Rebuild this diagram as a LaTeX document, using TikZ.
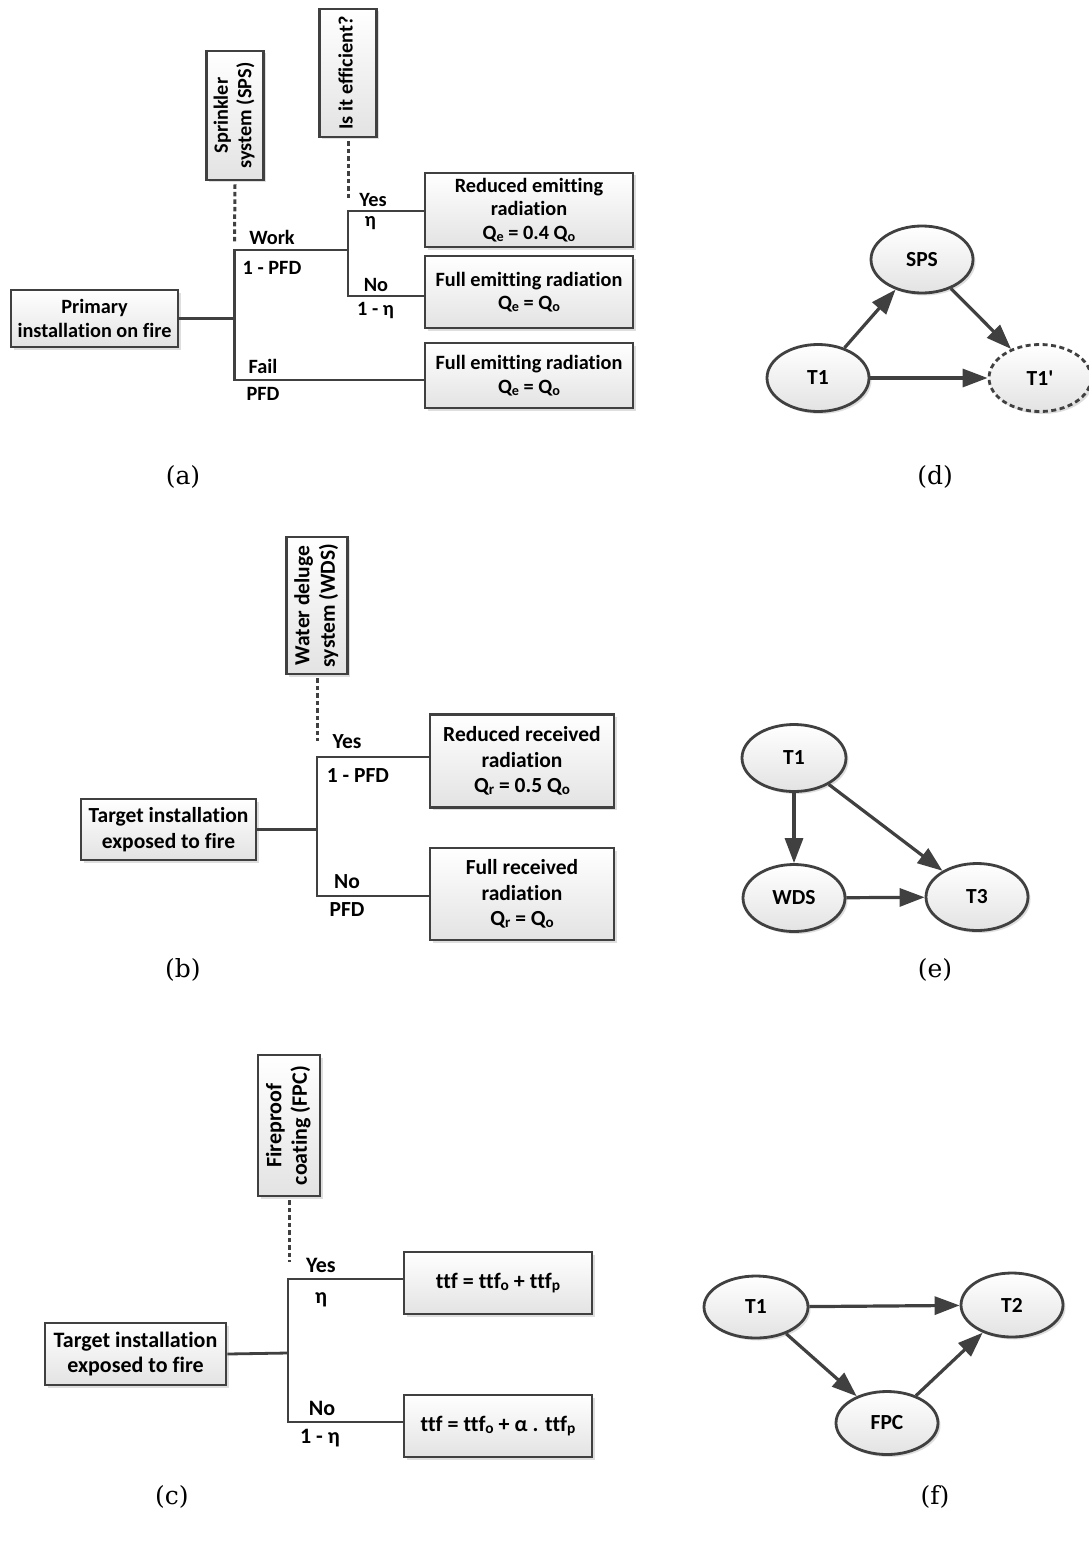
\documentclass[tikz,border=0pt]{standalone}
\usepackage{fontspec}
\setmainfont{Carlito}[Ligatures={NoCommon}]
\newfontfamily\capfont{DejaVu Serif}
\usetikzlibrary{shapes.geometric,arrows.meta,shadows}
\definecolor{ln}{HTML}{404040}
\newcommand{\sbx}[1]{\raisebox{-0.1em}{\scalebox{0.7}{#1}}}
\newcommand{\fsa}{\fontsize{20.3}{23.5}\selectfont\bfseries}
\newcommand{\fsb}{\fontsize{21.5}{25.5}\selectfont\bfseries}
\newcommand{\fsc}{\fontsize{22}{25.5}\selectfont\bfseries}
\newcommand{\rot}[1]{\rotatebox{90}{\begin{tabular}{@{}c@{}}#1\end{tabular}}}
\begin{document}
\begin{tikzpicture}[x=1pt,y=-1pt,
  box/.style={draw=ln, line width=2.8pt, top color=white, bottom color=black!11,
    drop shadow={shadow xshift=2.5pt, shadow yshift=-2.5pt, fill=black!25, opacity=0.5},
    inner sep=0pt, align=center},
  ell/.style={ellipse, draw=ln, line width=2.8pt, top color=white, bottom color=black!11,
    drop shadow={shadow xshift=2.5pt, shadow yshift=-2.5pt, fill=black!25, opacity=0.5},
    minimum width=102pt, minimum height=67pt, inner sep=0pt, font=\fontsize{21.5}{25}\selectfont\bfseries},
  tl/.style={draw=ln, line width=2.8pt, line join=miter},
  dl/.style={draw=ln, line width=3pt, dash pattern=on 4.5pt off 3pt},
  ar/.style={draw=ln, line width=3.2pt, -{Triangle[length=25pt,width=18pt]}},
  lab/.style={inner sep=0pt},
  captxt/.style={inner sep=0pt, font=\capfont\fontsize{25}{30}\selectfont}
]
\useasboundingbox (0,0) rectangle (1088,1541);
\fill[white] (0,0) rectangle (1088,1541);

% ---------------- panel (a)
\node[box, font=\fsa, minimum width=57pt, minimum height=129pt] (sps) at (235,115.5) {\rot{Sprinkler\\system (SPS)}};
\node[box, font=\fsa, minimum width=57pt, minimum height=128pt] (eff) at (348,73) {\rot{Is it efficient?}};
\node[box, font=\fsa, minimum width=167pt, minimum height=57pt] (pa) at (94.5,318.5) {Primary\\installation on fire};
\node[box, font=\fsa, minimum width=208pt, minimum height=74pt] (ra1) at (529,210) {Reduced emitting\\radiation\\Q\sbx{e} = 0.4 Q\sbx{o}};
\node[box, font=\fsa, minimum width=208pt, minimum height=72pt] (ra2) at (529,292) {Full emitting radiation\\Q\sbx{e} = Q\sbx{o}};
\node[box, font=\fsa, minimum width=208pt, minimum height=65pt] (ra3) at (529,375.5) {Full emitting radiation\\Q\sbx{e} = Q\sbx{o}};
\coordinate (a1) at (234.5,318.5);
\coordinate (a1t) at (234.5,250);
\coordinate (a1b) at (234.5,380);
\coordinate (a2) at (348,250);
\coordinate (a2t) at (348,211);
\coordinate (a2b) at (348,296);
\coordinate (da1) at (234.5,243);
\coordinate (da2) at (348,201);
\draw[dl] ([yshift=-3pt]sps.south) -- (da1);
\draw[dl] ([yshift=-3pt]eff.south) -- (da2);
\draw[tl] (pa.east) -- (a1);
\draw[tl] (a2) -- (a1t) -- (a1b) -- (a1b -| ra3.west);
\draw[tl] (ra1.west |- a2t) -- (a2t) -- (a2b) -- (a2b -| ra2.west);
\node[lab, font=\fsa] (lwork) at (272,237) {Work};
\node[lab, font=\fsa] (lpfd1) at (272,268) {1 - PFD};
\node[lab, font=\fsa] (lyes) at (373,200) {Yes};
\node[lab, font=\fsa] (leta) at (370.5,223) {η};
\node[lab, font=\fsa] (lno) at (376,285) {No};
\node[lab, font=\fsa] (l1eta) at (375.5,311) {1 - η};
\node[lab, font=\fsa] (lfail) at (263,366) {Fail};
\node[lab, font=\fsa] (lpfd) at (263,394) {PFD};
\node[captxt] (capa) at (183,477) {(a)};

% ---------------- panel (d)
\node[ell] (d1) at (818,378) {T1};
\node[ell] (dsps) at (922,259.5) {SPS};
\node[ell, dash pattern=on 5pt off 3.5pt] (d1p) at (1040,378) {T1\textquotesingle};
\draw[ar] (d1) -- (dsps);
\draw[ar] (dsps) -- (d1p);
\draw[ar] (d1) -- (d1p);
\node[captxt] (capd) at (935,477) {(d)};

% ---------------- panel (b)
\node[box, font=\fsb, minimum width=61pt, minimum height=137pt] (wds) at (317,605.5) {\rot{Water deluge\\system (WDS)}};
\node[box, font=\fsb, minimum width=175pt, minimum height=61pt] (pb) at (168.5,829.5) {Target installation\\exposed to fire};
\node[box, font=\fsb, minimum width=184pt, minimum height=93pt] (rb1) at (522,761) {Reduced received\\radiation\\Q\sbx{r} = 0.5 Q\sbx{o}};
\node[box, font=\fsb, minimum width=184pt, minimum height=92pt] (rb2) at (522,894) {Full received\\radiation\\Q\sbx{r} = Q\sbx{o}};
\coordinate (b1) at (317,829.5);
\coordinate (b1t) at (317,757);
\coordinate (b1b) at (317,896);
\coordinate (db) at (317,741);
\draw[dl] ([yshift=-3pt]wds.south) -- (db);
\draw[tl] (pb.east) -- (b1);
\draw[tl] (rb1.west |- b1t) -- (b1t) -- (b1b) -- (b1b -| rb2.west);
\node[lab, font=\fsb] (byes) at (347,742) {Yes};
\node[lab, font=\fsb] (bpfd1) at (358,776) {1 - PFD};
\node[lab, font=\fsb] (bno) at (347,882) {No};
\node[lab, font=\fsb] (bpfd) at (347,910) {PFD};
\node[captxt] (capb) at (183,970) {(b)};

% ---------------- panel (e)
\node[ell, minimum width=104pt] (e1) at (794,758) {T1};
\node[ell] (ewds) at (794,898) {WDS};
\node[ell] (e3) at (977,897) {T3};
\draw[ar] (e1) -- (ewds);
\draw[ar] (ewds) -- (e3);
\draw[ar] (e1) -- (e3);
\node[captxt] (cape) at (935,970) {(e)};

% ---------------- panel (c)
\node[box, font=\fsc, minimum width=62pt, minimum height=141pt] (fpc) at (289,1125.5) {\rot{Fireproof\\coating (FPC)}};
\node[box, font=\fsc, minimum width=181pt, minimum height=62pt] (pc) at (135.5,1354) {Target installation\\exposed to fire};
\node[box, font=\fsc, minimum width=188pt, minimum height=62pt] (rc1) at (498,1283) {ttf = ttf\sbx{o} + ttf\sbx{p}};
\node[box, font=\fsc, minimum width=188pt, minimum height=62pt] (rc2) at (498,1426) {ttf = ttf\sbx{o} + α . ttf\sbx{p}};
\coordinate (c1) at (288,1353);
\coordinate (c1t) at (288,1279);
\coordinate (c1b) at (288,1422);
\coordinate (dc) at (289,1262);
\draw[dl] ([yshift=-3pt]fpc.south) -- (dc);
\draw[tl] (pc.east) -- (c1);
\draw[tl] (rc1.west |- c1t) -- (c1t) -- (c1b) -- (c1b -| rc2.west);
\node[lab, font=\fsc] (cyes) at (321,1265) {Yes};
\node[lab, font=\fsc] (ceta) at (321,1300) {η};
\node[lab, font=\fsc] (cno) at (322,1408) {No};
\node[lab, font=\fsc] (c1eta) at (320,1438) {1 - η};
\node[captxt] (capc) at (172,1497) {(c)};

% ---------------- panel (f)
\node[ell, minimum width=104pt, minimum height=62pt] (f1) at (756,1307) {T1};
\node[ell, minimum height=64pt] (f2) at (1012,1305) {T2};
\node[ell, minimum height=63pt] (ffpc) at (887,1423) {FPC};
\draw[ar] (f1) -- (f2);
\draw[ar] (f1) -- (ffpc);
\draw[ar] (ffpc) -- (f2);
\node[captxt] (capf) at (935,1497) {(f)};
\end{tikzpicture}
\end{document}
